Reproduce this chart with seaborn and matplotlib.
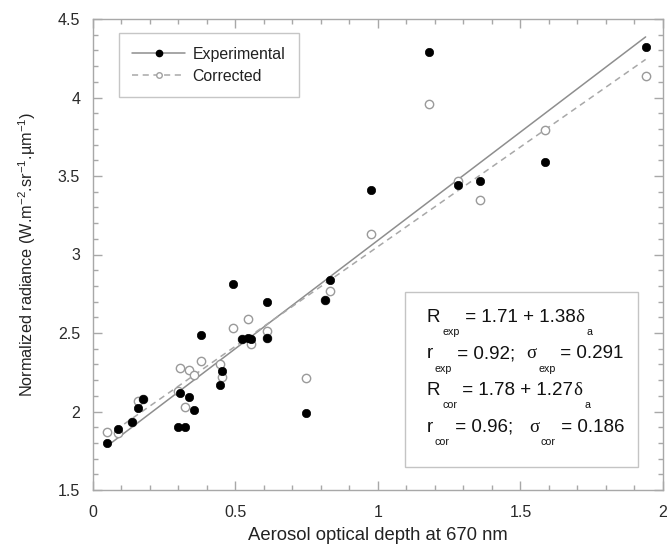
import numpy as np
import pandas as pd
import matplotlib
matplotlib.use("Agg")
import matplotlib.pyplot as plt
import seaborn as sns
from matplotlib.lines import Line2D
from matplotlib.patches import Rectangle
from matplotlib.ticker import MultipleLocator, FuncFormatter

# ---------------- data ----------------
aod = [0.049, 0.088, 0.137, 0.158, 0.175, 0.298, 0.306, 0.324, 0.336, 0.357,
       0.379, 0.446, 0.452, 0.493, 0.523, 0.546, 0.555, 0.610, 0.610, 0.747,
       0.813, 0.833, 0.977, 1.181, 1.281, 1.358, 1.587, 1.939]
experimental = [1.80, 1.89, 1.93, 2.02, 2.08, 1.90, 2.115, 1.90, 2.09, 2.01,
                2.485, 2.17, 2.26, 2.81, 2.46, 2.47, 2.46, 2.47, 2.70, 1.99,
                2.71, 2.84, 3.41, 4.29, 3.44, 3.47, 3.59, 4.32]
corrected = [1.87, 1.86, 1.93, 2.07, 2.08, 2.13, 2.275, 2.03, 2.265, 2.23,
             2.32, 2.30, 2.22, 2.535, 2.46, 2.59, 2.43, 2.51, 2.47, 2.215,
             2.71, 2.77, 3.13, 3.96, 3.47, 3.345, 3.79, 4.135]
fit_exp = (1.71, 1.38)   # intercept, slope
fit_cor = (1.78, 1.27)
series_labels = ["Experimental", "Corrected"]
x_ticks = [0, 0.5, 1, 1.5, 2]
y_ticks = [1.5, 2, 2.5, 3, 3.5, 4, 4.5]

# ---------------- style ----------------
sns.set_theme(style="ticks")
plt.rcParams["font.family"] = ["Liberation Sans", "DejaVu Sans"]
plt.rcParams["mathtext.fontset"] = "custom"
plt.rcParams["mathtext.rm"] = "Liberation Sans"
plt.rcParams["mathtext.it"] = "Liberation Sans:italic"

W, H = 668, 549
fig = plt.figure(figsize=(W / 100, H / 100), dpi=100)
ax = fig.add_axes([92.7 / W, 1 - 490 / H, (663 - 92.7) / W, (490 - 19) / H])

df = pd.DataFrame({"aod": aod, "Experimental": experimental, "Corrected": corrected})
xl = np.array([min(aod), max(aod)])
fit_df = pd.DataFrame({
    "aod": np.concatenate([xl, xl]),
    "R": np.concatenate([fit_exp[0] + fit_exp[1] * xl, fit_cor[0] + fit_cor[1] * xl]),
    "series": [series_labels[0]] * 2 + [series_labels[1]] * 2,
})

sol_col = "#8e8e8e"
dash_col = "#a8a8a8"
sns.lineplot(data=fit_df[fit_df.series == "Experimental"], x="aod", y="R",
             color=sol_col, lw=1.1, ax=ax, legend=False, zorder=1)
sns.lineplot(data=fit_df[fit_df.series == "Corrected"], x="aod", y="R",
             color=dash_col, lw=1.1, ls=(0, (4, 3)), ax=ax, legend=False, zorder=1)

sns.scatterplot(data=df, x="aod", y="Corrected", marker="o", s=36,
                facecolor="white", edgecolor="#9a9a9a", linewidth=1.0,
                ax=ax, zorder=3, legend=False)
sns.scatterplot(data=df, x="aod", y="Experimental", marker="o", s=36,
                color="black", edgecolor="black", linewidth=0.5,
                ax=ax, zorder=4, legend=False)

ax.set_xlim(0, 2)
ax.set_ylim(1.5, 4.5)
ax.set_xticks(x_ticks)
ax.set_yticks(y_ticks)
ax.xaxis.set_minor_locator(MultipleLocator(0.1))
ax.yaxis.set_minor_locator(MultipleLocator(0.1))
fmt = FuncFormatter(lambda v, p: f"{v:g}")
ax.xaxis.set_major_formatter(fmt)
ax.yaxis.set_major_formatter(fmt)

spine_col = "#a8a8a8"
for s in ax.spines.values():
    s.set_visible(True)
    s.set_color(spine_col)
    s.set_linewidth(1.0)
ax.tick_params(which="both", direction="in", top=True, right=True,
               color=spine_col, width=1.0)
ax.tick_params(which="major", length=6.5, labelsize=11.5, labelcolor="#2a2a2a")
ax.tick_params(axis="x", which="major", pad=11)
ax.tick_params(axis="y", which="major", pad=9)
ax.tick_params(which="minor", length=3.8)

ax.set_xlabel("Aerosol optical depth at 670 nm", fontsize=13.3, color="#222222", labelpad=5)
ax.set_ylabel(r"Normalized radiance (W.m$^{-2}$.sr$^{-1}$.µm$^{-1}$)",
              fontsize=11.7, color="#222222", labelpad=14)

# legend
handles = [
    Line2D([], [], color=sol_col, lw=1.1, marker="o", markersize=4.5,
           markerfacecolor="black", markeredgecolor="black"),
    Line2D([], [], color=dash_col, lw=1.1, ls=(0, (4, 3)), marker="o", markersize=4,
           markerfacecolor="white", markeredgecolor="#a0a0a0"),
]
leg = ax.legend(handles, series_labels, loc="upper left",
                bbox_to_anchor=(0.046, 0.970), frameon=True, fancybox=False,
                edgecolor="#b8b8b8", fontsize=11.4, handlelength=3.3,
                handletextpad=0.5, borderpad=0.85, labelspacing=0.45,
                borderaxespad=0)
leg.get_frame().set_linewidth(1.0)
for t in leg.get_texts():
    t.set_color("#222222")

# statistics box
x0 = (405 - 92.7) / 570.3
x1 = (638.3 - 92.7) / 570.3
y0 = (490 - 467.3) / 471
y1 = (490 - 291.7) / 471
ax.add_patch(Rectangle((x0, y0), x1 - x0, y1 - y0, transform=ax.transAxes,
                       facecolor="white", edgecolor="#c4c4c4", lw=1.0, zorder=5))

renderer = fig.canvas.get_renderer()


def put_line(x_px, base_px, pieces):
    x = x_px
    for txt, kind in pieces:
        if kind == "sub":
            fs, dy, fam = 7.7, 13.3, ["Liberation Sans"]
            x += 2
        elif kind == "greek":
            fs, dy, fam = 13.5, 0, ["Liberation Serif"]
        else:
            fs, dy, fam = 13.5, 0, ["Liberation Sans"]
        t = fig.text(x / W, 1 - (base_px + dy) / H, txt, fontsize=fs, family=fam,
                     va="baseline", ha="left", color="#111111", zorder=6)
        x += t.get_window_extent(renderer).width


lines = [
    [("R", "m"), ("exp", "sub"), (" = 1.71 + 1.38", "m"), ("δ", "greek"), ("a", "sub")],
    [("r", "m"), ("exp", "sub"), (" = 0.92;  ", "m"), ("σ", "greek"), ("exp", "sub"), (" = 0.291", "m")],
    [("R", "m"), ("cor", "sub"), (" = 1.78 + 1.27", "m"), ("δ", "greek"), ("a", "sub")],
    [("r", "m"), ("cor", "sub"), (" = 0.96;   ", "m"), ("σ", "greek"), ("cor", "sub"), (" = 0.186", "m")],
]
for i, pieces in enumerate(lines):
    put_line(426.7, 321.7 + 36.7 * i, pieces)

fig.savefig("out.png", dpi=100)
